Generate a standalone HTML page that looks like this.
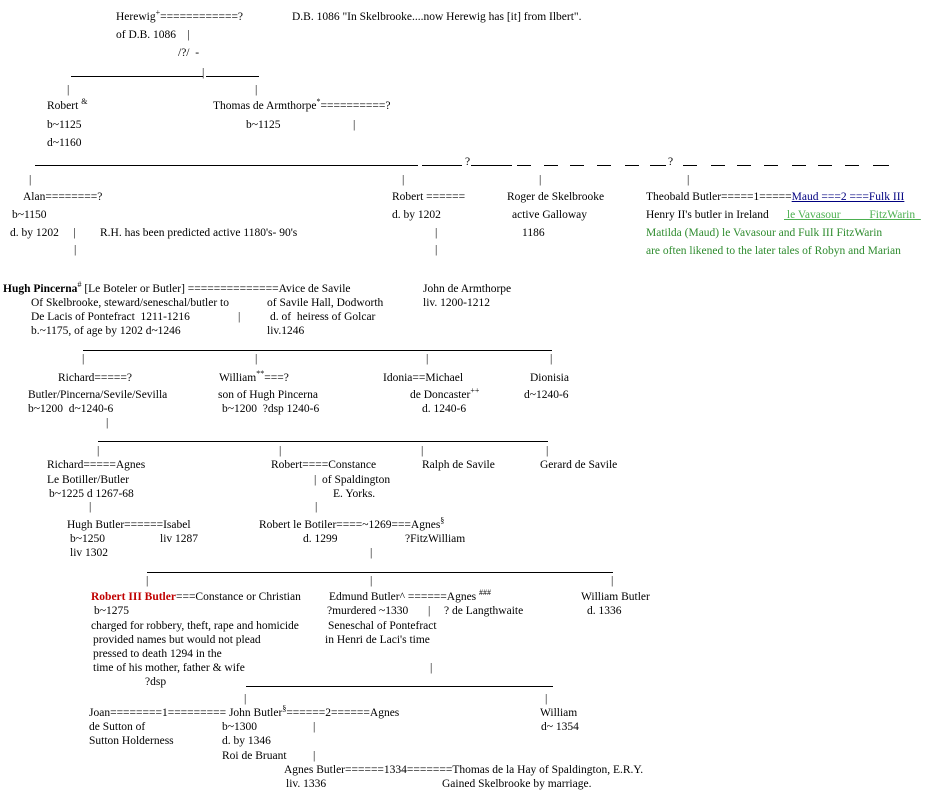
<!DOCTYPE html>
<html><head><meta charset="utf-8">
<style>
html,body{margin:0;padding:0;background:#fff;}
body{width:934px;height:802px;position:relative;overflow:hidden;font-family:"Liberation Serif",serif;font-size:11.5px;color:#000;}
.t{position:absolute;white-space:pre;line-height:14px;}
.h{position:absolute;height:1px;background:#000;}
sup{font-size:8px;line-height:0;vertical-align:5px;}
.g{color:#2e8b2e;}
.gl{color:#4caf50;text-decoration:underline;}
.n{color:#000080;text-decoration:underline;}
</style></head><body>
<div class="t" style="left:116px;top:10px">Herewig<sup>+</sup>============?</div>
<div class="t" style="left:292px;top:10px">D.B. 1086 "In Skelbrooke....now Herewig has [it] from Ilbert".</div>
<div class="t" style="left:116px;top:28px">of D.B. 1086    |</div>
<div class="t" style="left:178px;top:46px">/?/  -</div>
<div class="h" style="left:71px;top:76px;width:132px"></div>
<div class="t" style="left:202px;top:66px">|</div>
<div class="h" style="left:206px;top:76px;width:53px"></div>
<div class="t" style="left:67px;top:83px">|</div>
<div class="t" style="left:255px;top:83px">|</div>
<div class="t" style="left:47px;top:99px">Robert <sup>&amp;</sup></div>
<div class="t" style="left:213px;top:99px">Thomas de Armthorpe<sup>*</sup>==========?</div>
<div class="t" style="left:47px;top:118px">b~1125</div>
<div class="t" style="left:246px;top:118px">b~1125</div>
<div class="t" style="left:353px;top:118px">|</div>
<div class="t" style="left:47px;top:136px">d~1160</div>

<div class="h" style="left:35px;top:165px;width:383px"></div>
<div class="h" style="left:422px;top:165px;width:40px"></div>
<div class="t" style="left:465px;top:155px">?</div>
<div class="h" style="left:471px;top:165px;width:41px"></div>
<div class="h" style="left:517px;top:165px;width:14px"></div>
<div class="h" style="left:544px;top:165px;width:14px"></div>
<div class="h" style="left:570px;top:165px;width:14px"></div>
<div class="h" style="left:597px;top:165px;width:14px"></div>
<div class="h" style="left:625px;top:165px;width:14px"></div>
<div class="h" style="left:650px;top:165px;width:16px"></div>
<div class="t" style="left:668px;top:155px">?</div>
<div class="h" style="left:683px;top:165px;width:14px"></div>
<div class="h" style="left:711px;top:165px;width:14px"></div>
<div class="h" style="left:737px;top:165px;width:14px"></div>
<div class="h" style="left:764px;top:165px;width:14px"></div>
<div class="h" style="left:792px;top:165px;width:14px"></div>
<div class="h" style="left:818px;top:165px;width:14px"></div>
<div class="h" style="left:845px;top:165px;width:14px"></div>
<div class="h" style="left:873px;top:165px;width:16px"></div>

<div class="t" style="left:29px;top:173px">|</div>
<div class="t" style="left:402px;top:173px">|</div>
<div class="t" style="left:539px;top:173px">|</div>
<div class="t" style="left:687px;top:173px">|</div>
<div class="t" style="left:23px;top:190px">Alan========?</div>
<div class="t" style="left:392px;top:190px">Robert ======</div>
<div class="t" style="left:507px;top:190px">Roger de Skelbrooke</div>
<div class="t" style="left:646px;top:190px">Theobald Butler=====1=====<span class="n">Maud ===2 ===Fulk III</span></div>
<div class="t" style="left:12px;top:208px">b~1150</div>
<div class="t" style="left:392px;top:208px">d. by 1202</div>
<div class="t" style="left:512px;top:208px">active Galloway</div>
<div class="t" style="left:646px;top:208px">Henry II's butler in Ireland</div>
<div class="t" style="left:784px;top:208px"><span class="gl"> le Vavasour          FitzWarin  </span></div>
<div class="t" style="left:10px;top:226px">d. by 1202     |</div>
<div class="t" style="left:100px;top:226px">R.H. has been predicted active 1180's- 90's</div>
<div class="t" style="left:435px;top:226px">|</div>
<div class="t" style="left:522px;top:226px">1186</div>
<div class="t g" style="left:646px;top:226px">Matilda (Maud) le Vavasour and Fulk III FitzWarin</div>
<div class="t" style="left:74px;top:243px">|</div>
<div class="t" style="left:435px;top:243px">|</div>
<div class="t g" style="left:646px;top:244px">are often likened to the later tales of Robyn and Marian</div>

<div class="t" style="left:3px;top:282px"><b>Hugh Pincerna</b><sup>#</sup> [Le Boteler or Butler] ==============Avice de Savile</div>
<div class="t" style="left:423px;top:282px">John de Armthorpe</div>
<div class="t" style="left:31px;top:296px">Of Skelbrooke, steward/seneschal/butler to</div>
<div class="t" style="left:267px;top:296px">of Savile Hall, Dodworth</div>
<div class="t" style="left:423px;top:296px">liv. 1200-1212</div>
<div class="t" style="left:31px;top:310px">De Lacis of Pontefract  1211-1216</div>
<div class="t" style="left:238px;top:310px">|</div>
<div class="t" style="left:270px;top:310px">d. of  heiress of Golcar</div>
<div class="t" style="left:31px;top:324px">b.~1175, of age by 1202 d~1246</div>
<div class="t" style="left:267px;top:324px">liv.1246</div>
<div class="h" style="left:83px;top:350px;width:469px"></div>
<div class="t" style="left:82px;top:352px">|</div>
<div class="t" style="left:255px;top:352px">|</div>
<div class="t" style="left:426px;top:352px">|</div>
<div class="t" style="left:550px;top:352px">|</div>
<div class="t" style="left:58px;top:371px">Richard=====?</div>
<div class="t" style="left:219px;top:371px">William<sup>**</sup>===?</div>
<div class="t" style="left:383px;top:371px">Idonia==Michael</div>
<div class="t" style="left:530px;top:371px">Dionisia</div>
<div class="t" style="left:28px;top:388px">Butler/Pincerna/Sevile/Sevilla</div>
<div class="t" style="left:218px;top:388px">son of Hugh Pincerna</div>
<div class="t" style="left:410px;top:388px">de Doncaster<sup>++</sup></div>
<div class="t" style="left:524px;top:388px">d~1240-6</div>
<div class="t" style="left:28px;top:402px">b~1200  d~1240-6</div>
<div class="t" style="left:222px;top:402px">b~1200  ?dsp 1240-6</div>
<div class="t" style="left:422px;top:402px">d. 1240-6</div>
<div class="t" style="left:106px;top:416px">|</div>
<div class="h" style="left:98px;top:441px;width:450px"></div>
<div class="t" style="left:97px;top:444px">|</div>
<div class="t" style="left:279px;top:444px">|</div>
<div class="t" style="left:421px;top:444px">|</div>
<div class="t" style="left:546px;top:444px">|</div>
<div class="t" style="left:47px;top:458px">Richard=====Agnes</div>
<div class="t" style="left:271px;top:458px">Robert====Constance</div>
<div class="t" style="left:422px;top:458px">Ralph de Savile</div>
<div class="t" style="left:540px;top:458px">Gerard de Savile</div>
<div class="t" style="left:47px;top:473px">Le Botiller/Butler</div>
<div class="t" style="left:314px;top:473px">|  of Spaldington</div>
<div class="t" style="left:49px;top:487px">b~1225 d 1267-68</div>
<div class="t" style="left:333px;top:487px">E. Yorks.</div>
<div class="t" style="left:89px;top:500px">|</div>
<div class="t" style="left:315px;top:500px">|</div>
<div class="t" style="left:67px;top:518px">Hugh Butler======Isabel</div>
<div class="t" style="left:259px;top:518px">Robert le Botiler====~1269===Agnes<sup>§</sup></div>
<div class="t" style="left:70px;top:532px">b~1250</div>
<div class="t" style="left:160px;top:532px">liv 1287</div>
<div class="t" style="left:303px;top:532px">d. 1299</div>
<div class="t" style="left:405px;top:532px">?FitzWilliam</div>
<div class="t" style="left:70px;top:546px">liv 1302</div>
<div class="t" style="left:370px;top:546px">|</div>
<div class="h" style="left:147px;top:572px;width:466px"></div>
<div class="t" style="left:146px;top:574px">|</div>
<div class="t" style="left:370px;top:574px">|</div>
<div class="t" style="left:611px;top:574px">|</div>
<div class="t" style="left:91px;top:590px"><b style="color:#c00000">Robert III Butler</b>===Constance or Christian</div>
<div class="t" style="left:329px;top:590px">Edmund Butler^ ======Agnes <sup>###</sup></div>
<div class="t" style="left:581px;top:590px">William Butler</div>
<div class="t" style="left:94px;top:604px">b~1275</div>
<div class="t" style="left:327px;top:604px">?murdered ~1330</div>
<div class="t" style="left:428px;top:604px">|</div>
<div class="t" style="left:444px;top:604px">? de Langthwaite</div>
<div class="t" style="left:587px;top:604px">d. 1336</div>
<div class="t" style="left:91px;top:619px">charged for robbery, theft, rape and homicide</div>
<div class="t" style="left:328px;top:619px">Seneschal of Pontefract</div>
<div class="t" style="left:93px;top:633px">provided names but would not plead</div>
<div class="t" style="left:325px;top:633px">in Henri de Laci's time</div>
<div class="t" style="left:93px;top:647px">pressed to death 1294 in the</div>
<div class="t" style="left:93px;top:661px">time of his mother, father &amp; wife</div>
<div class="t" style="left:430px;top:661px">|</div>
<div class="t" style="left:145px;top:675px">?dsp</div>
<div class="h" style="left:246px;top:686px;width:307px"></div>
<div class="t" style="left:244px;top:692px">|</div>
<div class="t" style="left:545px;top:692px">|</div>
<div class="t" style="left:89px;top:706px">Joan========1========= John Butler<sup>§</sup>======2======Agnes</div>
<div class="t" style="left:540px;top:706px">William</div>
<div class="t" style="left:89px;top:720px">de Sutton of</div>
<div class="t" style="left:222px;top:720px">b~1300</div>
<div class="t" style="left:313px;top:720px">|</div>
<div class="t" style="left:541px;top:720px">d~ 1354</div>
<div class="t" style="left:89px;top:734px">Sutton Holderness</div>
<div class="t" style="left:222px;top:734px">d. by 1346</div>
<div class="t" style="left:222px;top:749px">Roi de Bruant</div>
<div class="t" style="left:313px;top:749px">|</div>
<div class="t" style="left:284px;top:763px">Agnes Butler======1334=======Thomas de la Hay of Spaldington, E.R.Y.</div>
<div class="t" style="left:286px;top:777px">liv. 1336</div>
<div class="t" style="left:442px;top:777px">Gained Skelbrooke by marriage.</div>
</body></html>
